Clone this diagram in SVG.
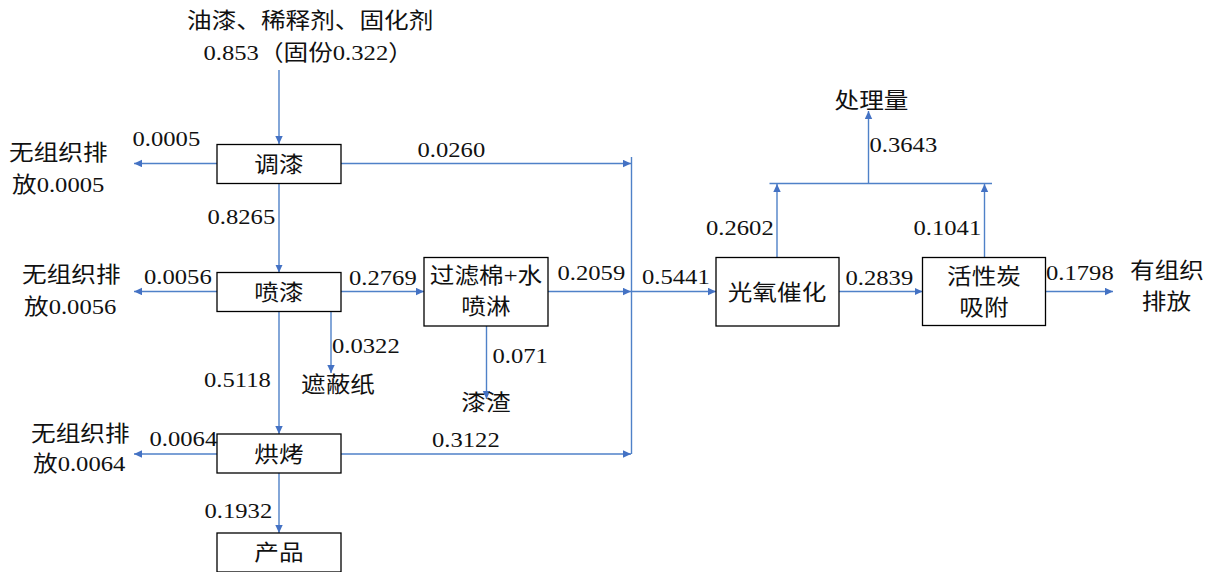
<svg xmlns="http://www.w3.org/2000/svg" width="1213" height="572" viewBox="0 0 1213 572">
<style>
text{font-family:"Liberation Serif","Noto Sans CJK SC",serif;font-size:22px;fill:#111}
.m{text-anchor:middle}
.box{fill:#fff;stroke:#000;stroke-width:1.3}
.c path{fill:none;stroke:#4F81C8;stroke-width:1.4}
.a{marker-end:url(#ah)}
</style>
<defs>
<marker id="ah" markerUnits="userSpaceOnUse" markerWidth="9" markerHeight="8" refX="8" refY="3.7" orient="auto">
<path d="M0,0 L8,3.7 L0,7.4 z" fill="#4472C4"/>
</marker>
</defs>
<rect width="1213" height="572" fill="#fff"/>
<g class="c" id="connectors">
<path class="a" d="M279,70 V144"/>
<path class="a" d="M217,163.5 H134"/>
<path class="a" d="M341,163.5 H631"/>
<path class="a" d="M279,183.5 V272.5"/>
<path class="a" d="M217,291.5 H134"/>
<path class="a" d="M341,291.5 H424"/>
<path class="a" d="M548,291.5 H631"/>
<path d="M631.5,157 V454"/>
<path class="a" d="M631,291.5 H716"/>
<path class="a" d="M839,291.5 H922.5"/>
<path class="a" d="M1045.5,291.5 H1113"/>
<path class="a" d="M777,257.5 V184"/>
<path class="a" d="M984.5,257.5 V184"/>
<path d="M769.5,183.5 H992"/>
<path class="a" d="M868.5,183.5 V111"/>
<path class="a" d="M331,311.5 V373"/>
<path class="a" d="M486.5,326 V399"/>
<path class="a" d="M279,311.5 V434"/>
<path class="a" d="M217,454 H134"/>
<path class="a" d="M341,454 H631"/>
<path class="a" d="M279,473 V533"/>
</g>
<g id="input">
<text transform="translate(187,28) scale(1.12,1)">油漆、稀释剂、固化剂</text>
<text transform="translate(203.5,60) scale(1.12,1)">0.853（固份0.322）</text>
</g>
<g id="tiaoqi">
<rect class="box" x="217" y="144.5" width="124" height="39"/>
<text class="m" transform="translate(279,171.5) scale(1.12,1)">调漆</text>
</g>
<g id="penqi">
<rect class="box" x="217" y="272.5" width="124" height="39"/>
<text class="m" transform="translate(279,299.5) scale(1.12,1)">喷漆</text>
</g>
<g id="guolv">
<rect class="box" x="424" y="257.5" width="124" height="68.5"/>
<text class="m" transform="translate(486,283) scale(1.12,1)">过滤棉+水</text>
<text class="m" transform="translate(486,314) scale(1.12,1)">喷淋</text>
</g>
<g id="hongkao">
<rect class="box" x="217" y="434" width="124" height="39"/>
<text class="m" transform="translate(279,461.5) scale(1.12,1)">烘烤</text>
</g>
<g id="chanpin">
<rect class="box" x="217" y="533" width="124" height="39"/>
<text class="m" transform="translate(279,560) scale(1.12,1)">产品</text>
</g>
<g id="guangyang">
<rect class="box" x="716" y="257.5" width="123" height="68.5"/>
<text class="m" transform="translate(777,300) scale(1.12,1)">光氧催化</text>
</g>
<g id="huoxingtan">
<rect class="box" x="922.5" y="257.5" width="123" height="68"/>
<text class="m" transform="translate(984,283.5) scale(1.12,1)">活性炭</text>
<text class="m" transform="translate(984,315) scale(1.12,1)">吸附</text>
</g>
<g id="unorg1">
<text transform="translate(9,160) scale(1.12,1)">无组织排</text>
<text transform="translate(12,192) scale(1.12,1)">放0.0005</text>
</g>
<g id="unorg2">
<text transform="translate(22,282) scale(1.12,1)">无组织排</text>
<text transform="translate(24,314) scale(1.12,1)">放0.0056</text>
</g>
<g id="unorg3">
<text transform="translate(31,441) scale(1.12,1)">无组织排</text>
<text transform="translate(33,471) scale(1.12,1)">放0.0064</text>
</g>
<g id="mask">
<text transform="translate(301,392) scale(1.12,1)">遮蔽纸</text>
</g>
<g id="residue">
<text class="m" transform="translate(486,410) scale(1.12,1)">漆渣</text>
</g>
<g id="treated">
<text class="m" transform="translate(871.5,107.5) scale(1.12,1)">处理量</text>
</g>
<g id="orgout">
<text class="m" transform="translate(1167,277.5) scale(1.12,1)">有组织</text>
<text class="m" transform="translate(1166.5,308.5) scale(1.12,1)">排放</text>
</g>
<g id="labels">
<text transform="translate(132.5,146) scale(1.12,1)">0.0005</text>
<text transform="translate(417.5,156.7) scale(1.12,1)">0.0260</text>
<text transform="translate(207.5,224) scale(1.12,1)">0.8265</text>
<text transform="translate(144,284) scale(1.12,1)">0.0056</text>
<text transform="translate(349,285) scale(1.12,1)">0.2769</text>
<text transform="translate(557.5,279.5) scale(1.12,1)">0.2059</text>
<text transform="translate(332,353) scale(1.12,1)">0.0322</text>
<text transform="translate(204,387) scale(1.12,1)">0.5118</text>
<text transform="translate(492.5,362.5) scale(1.12,1)">0.071</text>
<text transform="translate(149.5,446) scale(1.12,1)">0.0064</text>
<text transform="translate(432,446.7) scale(1.12,1)">0.3122</text>
<text transform="translate(204.5,518) scale(1.12,1)">0.1932</text>
<text transform="translate(869.5,152) scale(1.12,1)">0.3643</text>
<text transform="translate(706,235) scale(1.12,1)">0.2602</text>
<text transform="translate(913.5,235) scale(1.12,1)">0.1041</text>
<text transform="translate(642,284) scale(1.12,1)">0.5441</text>
<text transform="translate(845.5,285) scale(1.12,1)">0.2839</text>
<text transform="translate(1046,280) scale(1.12,1)">0.1798</text>
</g>
</svg>
